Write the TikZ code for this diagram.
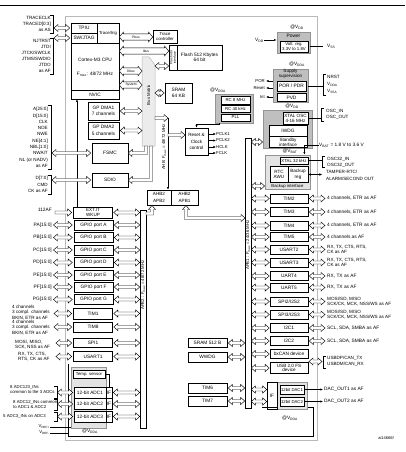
\documentclass[tikz,border=0pt]{standalone}
\usepackage{fontspec}
\setmainfont{Liberation Sans}
\usetikzlibrary{arrows.meta,calc}

\newcommand\fnt{\fontsize{4.8}{5.4}\selectfont}
\newcommand\fnts{\fontsize{4.3}{4.9}\selectfont}
\newcommand\fntt{\fontsize{3.3}{3.6}\selectfont}
\newcommand\lsp[1]{\fontsize{4.6}{#1}\selectfont}

\tikzset{
  blk/.style={draw, line width=0.6pt, fill=white, inner sep=0pt, align=center, font=\fnt},
  lbl/.style={inner sep=0pt, font=\fnt},
  grp/.style={draw=gray!85, fill=gray!50, line width=0.8pt, inner sep=0pt},
  lgrp/.style={draw=gray!85, fill=gray!22, line width=0.8pt, inner sep=0pt},
  brk/.style={line width=0.5pt},
  sig/.style={line width=0.5pt, -{Latex[length=2.6pt,width=2.2pt]}},
  harr/.style={draw, fill=white, line width=0.45pt,
    to path={let \p1=(\tikztostart), \p2=(\tikztotarget), \n1={2*(\x2>\x1)-1} in
      (\x1,\y1) -- ({\x1+(\n1)*4pt},{\y1+3.5pt}) -- ({\x1+(\n1)*4pt},{\y1+1.5pt})
      -- ({\x2-(\n1)*4pt},{\y1+1.5pt}) -- ({\x2-(\n1)*4pt},{\y1+3.5pt}) -- (\x2,\y1)
      -- ({\x2-(\n1)*4pt},{\y1-3.5pt}) -- ({\x2-(\n1)*4pt},{\y1-1.5pt})
      -- ({\x1+(\n1)*4pt},{\y1-1.5pt}) -- ({\x1+(\n1)*4pt},{\y1-3.5pt}) -- cycle}},
  harrone/.style={draw, fill=white, line width=0.45pt,
    to path={let \p1=(\tikztostart), \p2=(\tikztotarget), \n1={2*(\x2>\x1)-1} in
      (\x1,{\y1+1.5pt}) -- ({\x2-(\n1)*4pt},{\y1+1.5pt}) -- ({\x2-(\n1)*4pt},{\y1+3.5pt}) -- (\x2,\y1)
      -- ({\x2-(\n1)*4pt},{\y1-3.5pt}) -- ({\x2-(\n1)*4pt},{\y1-1.5pt}) -- (\x1,{\y1-1.5pt}) -- cycle}},
  busarr/.style={draw, fill=white, line width=0.45pt,
    to path={let \p1=(\tikztostart), \p2=(\tikztotarget), \n1={2*(\x2>\x1)-1} in
      (\x1,\y1) -- ({\x1+(\n1)*4pt},{\y1+4.8pt}) -- ({\x1+(\n1)*4pt},{\y1+3.2pt})
      -- ({\x2-(\n1)*4pt},{\y1+3.2pt}) -- ({\x2-(\n1)*4pt},{\y1+4.8pt}) -- (\x2,\y1)
      -- ({\x2-(\n1)*4pt},{\y1-4.8pt}) -- ({\x2-(\n1)*4pt},{\y1-3.2pt})
      -- ({\x1+(\n1)*4pt},{\y1-3.2pt}) -- ({\x1+(\n1)*4pt},{\y1-4.8pt}) -- cycle}},
}

\begin{document}
\begin{tikzpicture}[x=1pt,y=-1pt]
\useasboundingbox (0,0) rectangle (405,452);

% Cornice e contorno
\draw[line width=0.8pt] (0,5) -- (405,5);
\draw[gray!55, line width=1pt] (65,17) rectangle (317,440);
\draw[line width=0.6pt] (68,364) -- (68,436) -- (313,436) -- (313,407) -- (262,407);
\coordinate (vddaleft) at (68,0);

% Bus
\filldraw[fill=gray!15, draw=gray!60, line width=0.5pt] (142,57) -- (149,57) -- (155,65) -- (155,146) -- (142,146) -- cycle;
\node[rotate=90, font=\fnts, inner sep=0pt] (busmx) at (148.5,95) {Bus Matrix};
\coordinate (bmxw) at (142,0);
\coordinate (bmxe) at (155,0);
\node[draw, line width=0.6pt, fill=white, minimum width=6pt, minimum height=218pt, inner sep=0pt] (apbtwo) at (143,319) {};
\node[rotate=90, font=\fnts, inner sep=0pt] (apbtwoname) at (143,285) {APB2 : F\textsubscript{max} = 48/72 MHz};
\node[draw, line width=0.6pt, fill=white, minimum width=6pt, minimum height=270pt, inner sep=0pt] (apbone) at (248,273) {};
\node[rotate=90, font=\fnts, inner sep=0pt] (apbonename) at (248,245) {APB1 : F\textsubscript{max} = 24/36 MHz};

% CPU
\node[blk, minimum width=48pt, minimum height=76pt] (cpu) at (95,61) {};
\node[blk, minimum width=26pt, minimum height=10pt] (tpiu) at (84,28) {TPIU};
\node[blk, minimum width=26pt, minimum height=10pt] (swj) at (84,38) {SW/JTAG};
\node[blk, minimum width=22pt, minimum height=20pt, font=\fnts] (trig) at (108,33) {Trace/trig};
\node[lbl] (cpuname) at (95,60) {Cortex-M3 CPU};
\node[lbl] (cpufmax) at (95,74) {F\textsubscript{max}: 48/72 MHz};
\node[blk, minimum width=48pt, minimum height=9pt] (nvic) at (95,94.5) {NVIC};

% Pin di debug
\node[lbl, anchor=east, align=right, font=\lsp{6}] (tracepins) at (51,24) {TRACECLK\\TRACED[0:3]\\as AS};
\draw[brk] (50,15) -- (53,15) -- (53,33) -- (50,33);
\coordinate (tracebrk) at (54,28);
\node[lbl, anchor=east, align=right, font=\lsp{6}] (jtagpins) at (51,56) {NJTRST\\JTDI\\JTCK/SWCLK\\JTMS/SWDIO\\JTDO\\as AF};
\draw[brk] (50,38) -- (53,38) -- (53,74) -- (50,74);
\coordinate (jtagbrk) at (54,38);
\path[harr] (tracebrk) to ([xshift=-1pt]tpiu.west |- tracebrk);
\path[harr] (jtagbrk) to ([xshift=-1pt]swj.west |- jtagbrk);

% Flash, SRAM, DMA
\node[blk, minimum width=24pt, minimum height=13pt, font=\fnts] (tracectl) at (165,36.5) {Trace\\controller};
\node[blk, minimum width=8pt, minimum height=25pt] (flashobl) at (173,57.5) {};
\node[rotate=90, font=\fntt, align=center, inner sep=0pt] (flashoblname) at (flashobl) {Flash obl\\interface};
\node[blk, minimum width=45pt, minimum height=25pt] (flash) at (199.5,57.5) {Flash 512 Kbytes\\64 bit};
\node[blk, minimum width=27pt, minimum height=20pt] (sram) at (178.5,93) {SRAM\\64 KB};
\node[blk, minimum width=31pt, minimum height=18pt] (dmaone) at (103.5,111) {GP DMA1\\[1pt]7 channels};
\node[blk, minimum width=31pt, minimum height=17pt] (dmatwo) at (103.5,130.5) {GP DMA2\\[1pt]5 channels};

\coordinate (pbusy) at (136,37);
\coordinate (ibusy) at (146,51);
\coordinate (dbusy) at (131,71);
\coordinate (sysy) at (131,85);
\path[busarr] (cpu.east |- pbusy) to (tracectl.west |- pbusy);
\path[busarr] (cpu.east |- ibusy) to (flashobl.west |- ibusy);
\path[busarr] (cpu.east |- dbusy) to (bmxw |- dbusy);
\path[busarr] (cpu.east |- sysy) to (bmxw |- sysy);
\node[font=\fntt, inner sep=0pt] (pbus) at (pbusy) {Pbus};
\node[font=\fntt, inner sep=0pt] (ibus) at (ibusy) {Ibus};
\node[font=\fntt, inner sep=0pt] (dbus) at (dbusy) {Dbus};
\node[font=\fntt, inner sep=0pt] (sysbus) at (sysy) {System};
\coordinate (obly) at (0,66);
\path[harr] (bmxe |- obly) to (flashobl.west |- obly);
\path[harr] (bmxe |- sram) to ([xshift=-0.5pt]sram.west);
\path[harr] ([xshift=1pt]dmaone.east) to (bmxw |- dmaone);
\path[harr] ([xshift=1pt]dmatwo.east) to (bmxw |- dmatwo);

% FSMC e SDIO
\node[blk, minimum width=36pt, minimum height=20pt] (fsmc) at (110,153) {FSMC};
\node[blk, minimum width=36pt, minimum height=14pt] (sdio) at (110,180) {SDIO};
\node[lbl, anchor=east, align=right, font=\lsp{6.3}] (fsmcpins) at (48,137.5) {A[25:0]\\D[15:0]\\CLK\\NOE\\NWE\\NE[4:1]\\NBL[1:0]\\NWAIT\\NL (or NADV)\\as AF};
\draw[brk] (48,105) -- (51,105) -- (51,169) -- (48,169);
\coordinate (fsmcbrk) at (52,153);
\node[lbl, anchor=east, align=right, font=\lsp{6.5}] (sdiopins) at (48,184.5) {D[7:0]\\CMD\\CK as AF};
\draw[brk] (48,175) -- (51,175) -- (51,194) -- (48,194);
\coordinate (sdiobrk) at (52,180);

% NVIC
\coordinate (nvicx) at (77,0);
\node[blk, minimum width=39pt, minimum height=11pt, font=\lsp{4.6}] (extit) at (93,212.5) {EXT.IT\\WKUP};
\draw[sig] (extit.north -| nvicx) -- (nvic.south -| nvicx);

\path[harr] (fsmcbrk) to ([xshift=-1pt]fsmc.west);
\path[harr] (sdiobrk) to ([xshift=-1pt]sdio.west);
\filldraw[fill=white, line width=0.45pt] (fsmc.east) -- ++(4,-3.5) -- ++(0,2) -- (144.5,151.5) -- (144.5,146) -- (147.5,146) -- (147.5,154.5) -- (132,154.5) -- (132,156.5) -- cycle;
\filldraw[fill=white, line width=0.45pt] (sdio.east) -- ++(4,-3.5) -- ++(0,2) -- (149.5,178.5) -- (149.5,146) -- (152.5,146) -- (152.5,181.5) -- (132,181.5) -- (132,183.5) -- cycle;

% AHB, ponti, reset e clock
\node[blk, minimum width=24pt, minimum height=15pt, font=\lsp{6.5}] (brtwo) at (159,197.5) {AHB2\\APB2};
\node[blk, minimum width=27pt, minimum height=15pt, font=\lsp{6.5}] (brone) at (184.5,197.5) {AHB2\\APB1};
\node[blk, minimum width=23pt, minimum height=27pt, font=\lsp{6.2}] (rcc) at (196.5,141.5) {Reset \&\\Clock\\control};
\coordinate (ahbtop) at (168,118);
\coordinate (rccin) at (185,135);
\path[harrone] (bmxe |- ahbtop) to (ahbtop);
\draw[sig] (ahbtop) -- (brtwo.north -| ahbtop);
\node[rotate=90, font=\fnts, inner sep=0pt] (ahbname) at (164,147) {AHB: F\textsubscript{max} = 48/72 MHz};
\path[harrone] (ahbtop |- rccin) to (rccin);
\node[lbl, anchor=west, font=\fnts] (pclkone) at (216,134) {PCLK1};
\node[lbl, anchor=west, font=\fnts] (pclktwo) at (216,140.5) {PCLK2};
\node[lbl, anchor=west, font=\fnts] (hclk) at (216,147) {HCLK};
\node[lbl, anchor=west, font=\fnts] (fclk) at (216,153) {FCLK};
\draw[sig] (rcc.east |- pclkone) -- (pclkone.west);
\draw[sig] (rcc.east |- pclktwo) -- (pclktwo.west);
\draw[sig] (rcc.east |- hclk) -- (hclk.west);
\draw[sig] (rcc.east |- fclk) -- (fclk.west);
\filldraw[fill=white, line width=0.45pt] (152,205.5) -- (155.5,209.5) -- (153.5,209.5) -- (153.5,215) -- (146,215) -- (146,212) -- (150.5,212) -- (150.5,209.5) -- (148.5,209.5) -- cycle;
\filldraw[fill=white, line width=0.45pt] (186,205.5) -- (189.5,209.5) -- (187.5,209.5) -- (187.5,216.5) -- (241,216.5) -- (241,214.5) -- (245,218) -- (241,221.5) -- (241,219.5) -- (184.5,219.5) -- (184.5,209.5) -- (182.5,209.5) -- cycle;

% Oscillatori RC e PLL
\node[lbl] (vddarc) at (218,90) {@V\textsubscript{DDA}};
\node[grp, minimum width=38pt, minimum height=29pt] (rcgrp) at (234,108.5) {};
\node[blk, minimum width=29pt, minimum height=7.5pt, font=\fnts] (rceight) at (235.5,100.5) {RC 8 MHz};
\node[blk, minimum width=29pt, minimum height=7.5pt, font=\fnts] (rcforty) at (235.5,109) {RC 40 kHz};
\node[blk, minimum width=29pt, minimum height=7pt, font=\fnts] (pll) at (235.5,117.5) {PLL};
\draw[sig] ([xshift=5pt]rcgrp.south west) |- ([yshift=3pt]rcc.north) -- (rcc.north);

% Alimentazione
\node[lbl] (vddpow) at (297,27) {@V\textsubscript{DD}};
\node[grp, minimum width=33pt, minimum height=21pt] (power) at (293.5,42.5) {};
\node[lbl] (powname) at (293.5,36) {Power};
\node[blk, minimum width=28pt, minimum height=11pt, font=\fnts] (volt) at (294,46.5) {Volt. reg.\\3.3V to 1.8V};
\node[lbl, anchor=east] (vdd) at (264,40) {V\textsubscript{DD}};
\draw[sig] (vdd.east) -- (power.west |- vdd.east);
\node[lbl, anchor=west] (vss) at (327,46) {V\textsubscript{SS}};
\draw[brk] (power.east |- vss) -- ([xshift=-4pt]vss.west);

\node[lbl] (vddasup) at (297,64) {@V\textsubscript{DDA}};
\node[grp, minimum width=35pt, minimum height=33pt] (supv) at (290.5,85.5) {};
\node[lbl, align=center, font=\lsp{5}] (supvname) at (290.5,74) {Supply\\supervision};
\node[blk, minimum width=29pt, minimum height=10pt] (por) at (291.5,86) {POR / PDR};
\node[blk, minimum width=29pt, minimum height=8.5pt] (pvd) at (291.5,97.5) {PVD};
\node[lbl, anchor=west, align=left, font=\lsp{7}] (rstpins) at (327,84.5) {NRST\\V\textsubscript{DDA}\\V\textsubscript{SSA}};
\draw[brk] (326,74) -- (323,74) -- (323,95) -- (326,95);
\coordinate (rstbrk) at (323,86);
\draw[brk] (supv.east |- por) -- (rstbrk);
\node[lbl, anchor=east, font=\fnts] (porout) at (265,81) {POR};
\node[lbl, anchor=east, font=\fnts] (rstout) at (265,88) {Reset};
\node[lbl, anchor=east, font=\fnts] (intout) at (265,97) {Int};
\draw[sig] (supv.west |- porout) -- ([xshift=1pt]porout.east);
\draw[sig] (supv.west |- rstout) -- ([xshift=1pt]rstout.east);
\draw[sig] (supv.west |- intout) -- ([xshift=1pt]intout.east);

% IWDG e standby
\node[lbl] (vddwdg) at (292,106) {@V\textsubscript{DD}};
\node[grp, minimum width=49pt, minimum height=38pt] (wdggrp) at (287.5,129) {};
\node[blk, minimum width=38pt, minimum height=11pt] (iwdg) at (288,131) {IWDG};
\node[blk, minimum width=38pt, minimum height=11pt, font=\lsp{5}] (standby) at (288,142) {Standby\\interface};
\node[blk, minimum width=25pt, minimum height=12pt, font=\lsp{5}] (xtal) at (295.5,118.5) {XTAL OSC\\4-16 MHz};
\node[lbl, anchor=west, align=left, font=\lsp{6}] (oscpins) at (326,114.5) {OSC\_IN\\OSC\_OUT};
\draw[brk] (324,108) -- (321,108) -- (321,121) -- (324,121);
\coordinate (oscbrk) at (321,118.5);
\draw[brk] (xtal.east) -- (oscbrk);
\path[harr] (apbone.east |- standby) to (wdggrp.west |- standby);

% Dominio di backup
\node[lbl, anchor=west] (vbat) at (319,145) {V\textsubscript{BAT} = 1.8 V to 3.6 V};
\node[lbl] (vbatdom) at (290,151) {@V\textsubscript{BAT}};
\node[lgrp, minimum width=45pt, minimum height=34pt] (bkgrp) at (287.5,172) {};
\draw[sig] (vbat.west) -| ([xshift=-6pt]bkgrp.north east);
\node[blk, minimum width=28pt, minimum height=7pt, font=\fnts] (xtallow) at (294,160.5) {XTAL 32 kHz};
\node[blk, minimum width=18pt, minimum height=16pt, font=\lsp{5.5}] (rtc) at (279,174.5) {RTC\\AWU};
\node[blk, minimum width=20pt, minimum height=16pt, font=\lsp{5.5}] (bkreg) at (298,174.5) {Backup\\reg};
\node[lbl, font=\fnts] (bkif) at (287.5,186) {Backup interface};
\node[lbl, anchor=west, align=left, font=\lsp{6}] (osclpins) at (327,162) {OSC32\_IN\\OSC32\_OUT};
\draw[brk] (325,156) -- (322,156) -- (322,167) -- (325,167);
\coordinate (osclbrk) at (322,160.5);
\draw[brk] (xtallow.east) -- (osclbrk);
\node[lbl, anchor=west, align=left, font=\lsp{7}] (tamper) at (326,175.5) {TAMPER-RTC/\\ALARM/SECOND OUT};
\coordinate (tamperbrk) at (322,174.5);
\draw[line width=0.5pt, {Latex[length=2.6pt,width=2.6pt]}-{Latex[length=2.6pt,width=2.6pt]}] (bkreg.east) -- (tamperbrk);
\path[harr] (apbone.east |- bkif) to (bkgrp.west |- bkif);

% Periferiche APB1
\node[blk, minimum width=38pt, minimum height=9pt] (timtwo) at (289,198.5) {TIM2};
\node[blk, minimum width=38pt, minimum height=9pt] (timthree) at (289,212) {TIM3};
\node[blk, minimum width=38pt, minimum height=9pt] (timfour) at (289,225.5) {TIM4};
\node[blk, minimum width=38pt, minimum height=9pt] (timfive) at (289,237) {TIM5};
\node[blk, minimum width=38pt, minimum height=9pt] (usarttwo) at (289,249.5) {USART2};
\node[blk, minimum width=38pt, minimum height=9pt] (usartthree) at (289,262.5) {USART3};
\node[blk, minimum width=38pt, minimum height=8.5pt] (uartfour) at (289,276) {UART4};
\node[blk, minimum width=38pt, minimum height=9pt] (uartfive) at (289,287.5) {UART5};
\node[blk, minimum width=38pt, minimum height=9pt] (spitwo) at (289,301.5) {SPI2/I2S2};
\node[blk, minimum width=38pt, minimum height=9pt] (spithree) at (289,314.5) {SPI3/I2S3};
\node[blk, minimum width=38pt, minimum height=9pt] (ictwo) at (289,328) {I2C1};
\node[blk, minimum width=38pt, minimum height=8.5pt] (icthree) at (289,341) {I2C2};
\node[blk, minimum width=38pt, minimum height=8.5pt] (bxcan) at (289,354) {bxCAN device};
\node[blk, minimum width=38pt, minimum height=11pt, font=\lsp{4.8}] (usb) at (289,368) {USB 2.0 FS\\device};

\node[lbl, anchor=west] (timtwopins) at (327,198.5) {4 channels, ETR as AF};
\node[lbl, anchor=west] (timthreepins) at (327,212) {4 channels, ETR as AF};
\node[lbl, anchor=west] (timfourpins) at (327,225.5) {4 channels, ETR as AF};
\node[lbl, anchor=west] (timfivepins) at (327,237) {4 channels as AF};
\node[lbl, anchor=west, align=left, font=\lsp{5.2}] (usarttwopins) at (327,249.5) {RX, TX, CTS, RTS,\\CK as AF};
\node[lbl, anchor=west, align=left, font=\lsp{5.2}] (usartthreepins) at (327,262.5) {RX, TX, CTS, RTS,\\CK as AF};
\node[lbl, anchor=west] (uartfourpins) at (327,276) {RX, TX as AF};
\node[lbl, anchor=west] (uartfivepins) at (327,287.5) {RX, TX as AF};
\node[lbl, anchor=west, align=left, font=\lsp{5.6}] (spitwopins) at (327,301.5) {MOSI/SD, MISO\\SCK/CK, MCK, NSS/WS as AF};
\node[lbl, anchor=west, align=left, font=\lsp{5.6}] (spithreepins) at (327,314.5) {MOSI/SD, MISO\\SCK/CK, MCK, NSS/WS as AF};
\node[lbl, anchor=west] (ictwopins) at (327,328) {SCL, SDA, SMBA as AF};
\node[lbl, anchor=west] (icthreepins) at (327,341) {SCL, SDA, SMBA as AF};
\node[lbl, anchor=west, align=left, font=\lsp{5.6}] (usbpins) at (327,361.5) {USBDP/CAN\_TX\\USBDM/CAN\_RX};
\draw[brk] (326,356) -- (323,356) -- (323,368) -- (326,368);
\coordinate (usbbrk) at (322,361.5);
\coordinate (canusb) at (309,361.5);

\path[harr] (apbone.east |- timtwo) to ([xshift=-0.5pt]timtwo.west);
\path[harr] (apbone.east |- timthree) to ([xshift=-0.5pt]timthree.west);
\path[harr] (apbone.east |- timfour) to ([xshift=-0.5pt]timfour.west);
\path[harr] (apbone.east |- timfive) to ([xshift=-0.5pt]timfive.west);
\path[harr] (apbone.east |- usarttwo) to ([xshift=-0.5pt]usarttwo.west);
\path[harr] (apbone.east |- usartthree) to ([xshift=-0.5pt]usartthree.west);
\path[harr] (apbone.east |- uartfour) to ([xshift=-0.5pt]uartfour.west);
\path[harr] (apbone.east |- uartfive) to ([xshift=-0.5pt]uartfive.west);
\path[harr] (apbone.east |- spitwo) to ([xshift=-0.5pt]spitwo.west);
\path[harr] (apbone.east |- spithree) to ([xshift=-0.5pt]spithree.west);
\path[harr] (apbone.east |- ictwo) to ([xshift=-0.5pt]ictwo.west);
\path[harr] (apbone.east |- icthree) to ([xshift=-0.5pt]icthree.west);
\path[harr] (apbone.east |- bxcan) to ([xshift=-0.5pt]bxcan.west);
\path[harr] (apbone.east |- usb) to ([xshift=-0.5pt]usb.west);

\path[harr] ([xshift=1pt]timtwo.east) to ([xshift=-2pt]timtwopins.west);
\path[harr] ([xshift=1pt]timthree.east) to ([xshift=-2pt]timthreepins.west);
\path[harr] ([xshift=1pt]timfour.east) to ([xshift=-2pt]timfourpins.west);
\path[harr] ([xshift=1pt]timfive.east) to ([xshift=-2pt]timfivepins.west);
\path[harr] ([xshift=1pt]usarttwo.east) to ([xshift=-2pt]usarttwopins.west);
\path[harr] ([xshift=1pt]usartthree.east) to ([xshift=-2pt]usartthreepins.west);
\path[harr] ([xshift=1pt]uartfour.east) to ([xshift=-2pt]uartfourpins.west);
\path[harr] ([xshift=1pt]uartfive.east) to ([xshift=-2pt]uartfivepins.west);
\path[harr] ([xshift=1pt]spitwo.east) to ([xshift=-2pt]spitwopins.west);
\path[harr] ([xshift=1pt]spithree.east) to ([xshift=-2pt]spithreepins.west);
\path[harr] ([xshift=1pt]ictwo.east) to ([xshift=-2pt]ictwopins.west);
\path[harr] ([xshift=1pt]icthree.east) to ([xshift=-2pt]icthreepins.west);
\path[harr] (canusb) to (usbbrk);

% SRAM di backup, WWDG, TIM6, TIM7
\node[blk, minimum width=39pt, minimum height=9pt] (srambk) at (207.5,343) {SRAM 512 B};
\node[blk, minimum width=39pt, minimum height=10pt] (wwdg) at (207.5,357) {WWDG};
\node[blk, minimum width=39pt, minimum height=10pt] (timsix) at (207.5,388) {TIM6};
\node[blk, minimum width=39pt, minimum height=10pt] (timseven) at (207.5,401) {TIM7};
\path[harr] ([xshift=1pt]srambk.east) to (apbone.west |- srambk);
\path[harr] ([xshift=1pt]wwdg.east) to (apbone.west |- wwdg);
\path[harr] ([xshift=1pt]timsix.east) to (apbone.west |- timsix);
\path[harr] ([xshift=1pt]timseven.east) to (apbone.west |- timseven);

% DAC
\node[lgrp, minimum width=30pt, minimum height=27pt] (dacgrp) at (292,395.5) {};
\node[draw, line width=0.6pt, minimum width=10pt, minimum height=27pt, inner sep=0pt, font=\fnt] (dacif) at (272,395.5) {IF};
\node[blk, minimum width=24pt, minimum height=9pt, font=\fnts] (dacone) at (292,389.5) {12bit DAC1};
\node[blk, minimum width=24pt, minimum height=9pt, font=\fnts] (dactwo) at (292,401.5) {12bit DAC2};
\path[harr] (apbone.east |- dacone) to (dacif.west |- dacone);
\path[harr] (apbone.east |- dactwo) to (dacif.west |- dactwo);
\node[lbl, anchor=west] (dacoutone) at (324,389.5) {DAC\_OUT1 as AF};
\node[lbl, anchor=west] (dacouttwo) at (324,401.5) {DAC\_OUT2 as AF};
\draw[sig] (dacone.east) -- ([xshift=-1pt]dacoutone.west);
\draw[sig] (dactwo.east) -- ([xshift=-1pt]dacouttwo.west);
\node[lbl] (vddadac) at (290,418) {@V\textsubscript{DDA}};

% Periferiche APB2
\node[lbl, anchor=east] (afpins) at (52,210) {112AF};
\path[harrone] ([xshift=3pt]afpins.east |- extit) to ([xshift=-1.5pt]extit.west);
\path[harr] ([xshift=1pt]extit.east) to (apbtwo.west |- extit);

\node[blk, minimum width=39pt, minimum height=10pt] (gpioa) at (93.5,225) {GPIO port A};
\node[blk, minimum width=39pt, minimum height=10pt] (gpiob) at (93.5,237.5) {GPIO port B};
\node[blk, minimum width=39pt, minimum height=10pt] (gpioc) at (93.5,250) {GPIO port C};
\node[blk, minimum width=39pt, minimum height=10pt] (gpiod) at (93.5,262.5) {GPIO port D};
\node[blk, minimum width=39pt, minimum height=10pt] (gpioe) at (93.5,275) {GPIO port E};
\node[blk, minimum width=39pt, minimum height=10pt] (gpiof) at (93.5,287) {GPIO port F};
\node[blk, minimum width=39pt, minimum height=10pt] (gpiog) at (93.5,299.5) {GPIO port G};
\node[lbl, anchor=east] (pa) at (52,225) {PA[15:0]};
\node[lbl, anchor=east] (pb) at (52,237.5) {PB[15:0]};
\node[lbl, anchor=east] (pc) at (52,250) {PC[15:0]};
\node[lbl, anchor=east] (pd) at (52,262.5) {PD[15:0]};
\node[lbl, anchor=east] (pe) at (52,275) {PE[15:0]};
\node[lbl, anchor=east] (pf) at (52,287) {PF[15:0]};
\node[lbl, anchor=east] (pg) at (52,299.5) {PG[15:0]};
\path[harr] ([xshift=1.5pt]pa.east) to ([xshift=-1.5pt]gpioa.west);
\path[harr] ([xshift=1.5pt]pb.east) to ([xshift=-1.5pt]gpiob.west);
\path[harr] ([xshift=1.5pt]pc.east) to ([xshift=-1.5pt]gpioc.west);
\path[harr] ([xshift=1.5pt]pd.east) to ([xshift=-1.5pt]gpiod.west);
\path[harr] ([xshift=1.5pt]pe.east) to ([xshift=-1.5pt]gpioe.west);
\path[harr] ([xshift=1.5pt]pf.east) to ([xshift=-1.5pt]gpiof.west);
\path[harr] ([xshift=1.5pt]pg.east) to ([xshift=-1.5pt]gpiog.west);
\path[harr] ([xshift=1pt]gpioa.east) to (apbtwo.west |- gpioa);
\path[harr] ([xshift=1pt]gpiob.east) to (apbtwo.west |- gpiob);
\path[harr] ([xshift=1pt]gpioc.east) to (apbtwo.west |- gpioc);
\path[harr] ([xshift=1pt]gpiod.east) to (apbtwo.west |- gpiod);
\path[harr] ([xshift=1pt]gpioe.east) to (apbtwo.west |- gpioe);
\path[harr] ([xshift=1pt]gpiof.east) to (apbtwo.west |- gpiof);
\path[harr] ([xshift=1pt]gpiog.east) to (apbtwo.west |- gpiog);

\node[blk, minimum width=39pt, minimum height=11pt] (timone) at (93,313.5) {TIM1};
\node[blk, minimum width=39pt, minimum height=10pt] (timeight) at (93,327) {TIM8};
\node[blk, minimum width=39pt, minimum height=9pt] (spione) at (93,343) {SPI1};
\node[blk, minimum width=39pt, minimum height=10pt] (usartone) at (93,356.5) {USART1};
\node[lbl, anchor=west, align=left, font=\lsp{5.2}] (timonepins) at (12,312.5) {4 channels\\3 compl. channels\\BKIN, ETR as AF};
\node[lbl, anchor=west, align=left, font=\lsp{5.2}] (timeightpins) at (12,327.5) {4 channels\\3 compl. channels\\BKIN, ETR as AF};
\node[lbl, anchor=west, align=left, font=\lsp{5.2}] (spionepins) at (15,345) {MOSI, MISO,\\SCK, NSS as AF};
\node[lbl, anchor=west, align=left, font=\lsp{5.2}] (usartonepins) at (18,356.5) {RX, TX, CTS,\\RTS, CK as AF};
\coordinate (timonebrk) at (54,313.5);
\coordinate (timeightbrk) at (54,327);
\coordinate (spionebrk) at (56,343);
\coordinate (usartonebrk) at (56,356.5);
\path[harr] (timonebrk) to ([xshift=-1.5pt]timone.west);
\path[harr] (timeightbrk) to ([xshift=-1.5pt]timeight.west);
\path[harr] (spionebrk) to ([xshift=-1.5pt]spione.west);
\path[harr] (usartonebrk) to ([xshift=-1.5pt]usartone.west);
\path[harr] ([xshift=1pt]timone.east) to (apbtwo.west |- timone);
\path[harr] ([xshift=1pt]timeight.east) to (apbtwo.west |- timeight);
\path[harr] ([xshift=1pt]spione.east) to (apbtwo.west |- spione);
\path[harr] ([xshift=1pt]usartone.east) to (apbtwo.west |- usartone);

% ADC
\node[lgrp, minimum width=35pt, minimum height=61pt] (adcgrp) at (88.5,397.5) {};
\node[blk, minimum width=32pt, minimum height=8pt, font=\fnts] (temp) at (89,374) {Temp. sensor};
\node[blk, minimum width=32pt, minimum height=11pt] (adcone) at (90,392.5) {12-bit ADC1};
\node[blk, minimum width=32pt, minimum height=11pt] (adctwo) at (90,404) {12-bit ADC2};
\node[blk, minimum width=32pt, minimum height=11pt] (adcthree) at (90,416.5) {12-bit ADC3};
\node[blk, minimum width=6pt, minimum height=11pt] (ifone) at (109,392.5) {IF};
\node[blk, minimum width=6pt, minimum height=11pt] (iftwo) at (109,404) {IF};
\node[blk, minimum width=6pt, minimum height=11pt] (ifthree) at (109,416.5) {IF};
\draw[brk] (temp.east) -| (ifone.north);
\node[lbl] (vddaadc) at (90,431) {@V\textsubscript{DDA}};
\path[harr] ([xshift=1pt]ifone.east) to (apbtwo.west |- ifone);
\path[harr] ([xshift=1pt]iftwo.east) to (apbtwo.west |- iftwo);
\path[harr] ([xshift=1pt]ifthree.east) to (apbtwo.west |- ifthree);

\node[lbl, anchor=west, align=left, font=\fontsize{4.3}{5}\selectfont] (adcpinsa) at (10,389.5) {8 ADC123\_INs\\common to the 3 ADCs};
\node[lbl, anchor=west, align=left, font=\fontsize{4.3}{5}\selectfont] (adcpinsb) at (13,405) {8 ADC12\_INs common\\to ADC1 \& ADC2};
\node[lbl, anchor=west, font=\fontsize{4.3}{5}\selectfont] (adcpinsc) at (3,416.5) {5 ADC3\_INs on ADC3};
\draw[brk] (54,386) -- (57,386) -- (57,398) -- (54,398);
\draw[brk] (54,399) -- (57,399) -- (57,410) -- (54,410);
\draw[brk] (54,412) -- (57,412) -- (57,421) -- (54,421);
\coordinate (adcbrka) at (57.5,392.5);
\coordinate (adcbrkb) at (57.5,404);
\coordinate (adcbrkc) at (57.5,416.5);
\path[harr] (adcbrka) to ([xshift=-1pt]adcone.west);
\path[harr] (adcbrkb) to ([xshift=-1pt]adctwo.west);
\path[harr] (adcbrkc) to ([xshift=-1pt]adcthree.west);

\node[lbl, anchor=east, font=\fnts] (vrefp) at (50,427) {V\textsubscript{REF+}};
\node[lbl, anchor=east, font=\fnts] (vrefm) at (50,433) {V\textsubscript{REF-}};
\draw[brk] (vrefp.east) -- (adcgrp.west |- vrefp);
\draw[brk] (vrefm.east) -- (vddaleft |- vrefm);

\node[font=\fontsize{4}{4.5}\selectfont, inner sep=0pt] (figid) at (386,438) {ai14666f};
\end{tikzpicture}
\end{document}
